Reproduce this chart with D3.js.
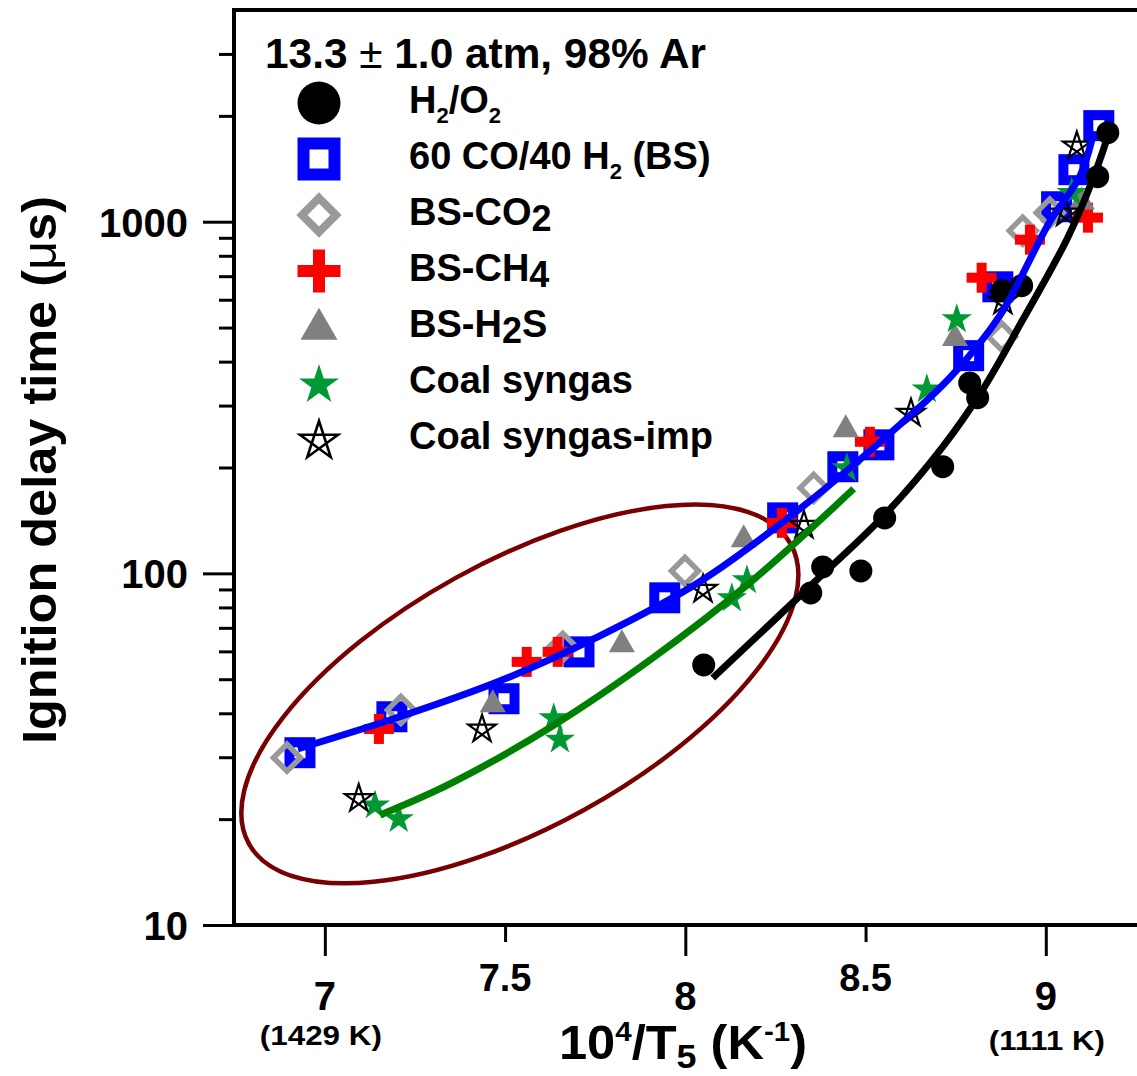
<!DOCTYPE html>
<html><head><meta charset="utf-8">
<script src="https://cdn.jsdelivr.net/npm/d3@7"></script>
<style>
body{margin:0;background:#fff}
svg{display:block}
text{font-family:"Liberation Sans",Arial,Helvetica,sans-serif;font-weight:bold;fill:#000}
</style>
</head><body>
<svg id="chart" width="1137" height="1076"></svg>
<script>
// ---------- data ----------
const xDomain = [6.748, 9.253];
const yDomain = [10, 4000];
const xMajorTicks = [7, 8, 9];
const xMinorTicks = [7.5, 8.5];
const xMajorLabels = ["7", "8", "9"];
const xMinorLabels = ["7.5", "8.5"];
const yMajorTicks = [10, 100, 1000];
const yMinorTicks = [20,30,40,50,60,70,80,90,200,300,400,500,600,700,800,900,2000,3000];

const h2o2X = [8.051, 8.348, 8.381, 8.487, 8.553, 8.714, 8.789, 8.811, 8.878, 8.933, 9.144, 9.172];
const h2o2Y = [54.9, 88.0, 104.3, 101.6, 143.8, 201, 348, 316, 636, 658, 1343, 1792];

const bsX = [6.931, 7.186, 7.497, 7.705, 7.943, 8.270, 8.437, 8.537, 8.786, 8.867, 9.030, 9.078, 9.147];
const bsY = [30.9, 39.1, 44.0, 59.8, 85.2, 143.8, 201, 232, 416, 653, 1103, 1406, 1876];

const co2X = [6.895, 7.211, 7.660, 7.999, 8.356, 8.878, 8.936, 9.011];
const co2Y = [29.9, 40.9, 61.8, 101.6, 175, 471, 943, 1061];

const ch4X = [7.150, 7.560, 7.646, 8.268, 8.512, 8.822, 8.956, 9.117];
const ch4Y = [36.1, 56.0, 59.8, 139.2, 236.7, 693, 889, 1027];

const h2sX = [7.466, 7.824, 8.162, 8.445, 8.748, 9.100];
const h2sY = [42.8, 63.4, 126, 259, 471, 1150];

const coalX = [7.139, 7.205, 7.635, 7.652, 8.129, 8.171, 8.448, 8.670, 8.753, 9.072];
const coalY = [22.1, 20.2, 39.1, 34.0, 85.8, 96.5, 201, 337, 533, 1220];

const impX = [7.094, 7.436, 8.049, 8.329, 8.626, 8.881, 9.055, 9.086];
const impY = [23.1, 36.4, 90.9, 138.3, 288, 600, 1068, 1656];

// fitted curves
const blueFitX = [6.925, 7.208, 7.485, 7.763, 8.040, 8.318, 8.595, 8.734, 8.872, 9.011, 9.094, 9.128];
const blueFitY = [31.7, 39.1, 49.4, 66.4, 94.6, 152.6, 264.6, 360, 540, 1000, 1343, 1711];
const greenFitX = [7.153, 7.347, 7.624, 7.902, 8.179, 8.467];
const greenFitY = [20.55, 25.2, 36.4, 56.7, 94.0, 174];
const blackFitX = [8.076, 8.359, 8.553, 8.714, 8.825, 8.936, 9.058, 9.130, 9.169];
const blackFitY = [50.4, 94.6, 146.7, 229, 333, 526, 889, 1317, 1711];

// ellipse annotation (center in data units)
const ellipseCenter = [7.541, 45.4];

const legendTitle = ["13.3 ", "\u00B1", " 1.0 atm, 98% Ar"];
const legendKeys = ["h2o2", "bs", "co2", "ch4", "h2s", "coal", "imp"];

// ---------- drawing ----------
const svg = d3.select("#chart");
const L = 234, R = 1137, T = 10, B = 925;
const x = d3.scaleLinear().domain(xDomain).range([L, R]);
const y = d3.scaleLog().domain(yDomain).range([B, T]);

const COL = {blue:"#0000ff", red:"#ff0000", dia:"#999999", tri:"#808080", green:"#009933", gline:"#008000", ell:"#780000"};

function starPts(r){
  const p=[];
  for(let i=0;i<5;i++){const a=-Math.PI/2+i*2*Math.PI/5;p.push([r*Math.cos(a),r*Math.sin(a)]);}
  return [0,2,4,1,3].map(i=>p[i]);
}
function starPath(r){return "M"+starPts(r).map(d=>d[0].toFixed(2)+","+d[1].toFixed(2)).join("L")+"Z";}

function drawMarker(g, type, cx, cy, big){
  if(type==="h2o2"){
    g.append("circle").attr("cx",cx).attr("cy",cy).attr("r",big?21.5:11.5).attr("fill","#000");
  } else if(type==="bs"){
    const s = big?31:21, sw = big?12:10;
    g.append("rect").attr("x",cx-s/2).attr("y",cy-s/2).attr("width",s).attr("height",s)
      .attr("fill","none").attr("stroke",COL.blue).attr("stroke-width",sw);
  } else if(type==="co2"){
    const h = big?17:13.5;
    g.append("path").attr("d",`M${cx},${cy-h}L${cx+h},${cy}L${cx},${cy+h}L${cx-h},${cy}Z`)
      .attr("fill","none").attr("stroke",COL.dia).attr("stroke-width",big?8:5.5);
  } else if(type==="ch4"){
    const w = big?43:30, t = big?12:10;
    g.append("rect").attr("x",cx-w/2).attr("y",cy-t/2).attr("width",w).attr("height",t).attr("fill",COL.red);
    g.append("rect").attr("x",cx-t/2).attr("y",cy-w/2).attr("width",t).attr("height",w).attr("fill",COL.red);
  } else if(type==="h2s"){
    const w = big?37:26, h = big?32:23;
    g.append("path").attr("d",`M${cx},${cy-h*0.6}L${cx+w/2},${cy+h*0.4}L${cx-w/2},${cy+h*0.4}Z`).attr("fill",COL.tri);
  } else if(type==="coal"){
    g.append("path").attr("d",starPath(big?21:16)).attr("transform",`translate(${cx},${cy+ (big?2:1.5)})`)
      .attr("fill",COL.green).attr("fill-rule","nonzero");
  } else if(type==="imp"){
    g.append("path").attr("d",starPath(big?20:14.5)).attr("transform",`translate(${cx},${cy+(big?2:1.5)})`)
      .attr("fill","none").attr("stroke","#000").attr("stroke-width",big?2.6:2.2).attr("stroke-linejoin","miter");
  }
}

// ellipse
svg.append("ellipse")
  .attr("cx",0).attr("cy",0).attr("rx",309.6).attr("ry",132.6)
  .attr("transform",`translate(${x(ellipseCenter[0])},${y(ellipseCenter[1])}) rotate(-28.9)`)
  .attr("fill","none").attr("stroke",COL.ell).attr("stroke-width",4.5);

// markers
const series = [
  ["bs", bsX, bsY],
  ["co2", co2X, co2Y],
  ["ch4", ch4X, ch4Y],
  ["h2s", h2sX, h2sY],
  ["coal", coalX, coalY],
  ["imp", impX, impY],
  ["h2o2", h2o2X, h2o2Y]
];
const mg = svg.append("g");
series.forEach(([type, xs, ys])=>{
  xs.forEach((v,i)=>drawMarker(mg, type, x(v), y(ys[i]), false));
});

// fit lines
const line = d3.line().x(d=>x(d[0])).y(d=>y(d[1])).curve(d3.curveCatmullRom.alpha(0.5));
function fit(xs, ys, color){
  svg.append("path").attr("d", line(xs.map((v,i)=>[v, ys[i]])))
    .attr("fill","none").attr("stroke",color).attr("stroke-width",7).attr("stroke-linecap","butt");
}
fit(greenFitX, greenFitY, COL.gline);
fit(blueFitX, blueFitY, COL.blue);
fit(blackFitX, blackFitY, "#000");

// axes
const yMaj = svg.append("g").attr("transform",`translate(${L},0)`)
  .call(d3.axisLeft(y).tickValues(yMajorTicks).tickSize(31).tickPadding(15).tickFormat(d3.format("d")));
const yMin = svg.append("g").attr("transform",`translate(${L},0)`)
  .call(d3.axisLeft(y).tickValues(yMinorTicks).tickSize(15).tickFormat(""));
const xMaj = svg.append("g").attr("transform",`translate(0,${B})`)
  .call(d3.axisBottom(x).tickValues(xMajorTicks).tickSize(31).tickFormat(""));
const xMin = svg.append("g").attr("transform",`translate(0,${B})`)
  .call(d3.axisBottom(x).tickValues(xMinorTicks).tickSize(17).tickFormat(""));
[yMaj,yMin,xMaj,xMin].forEach(g=>{
  g.select(".domain").remove();
  g.selectAll(".tick line").attr("stroke","#000").attr("stroke-width",3);
});
yMaj.selectAll(".tick text").attr("font-size",40).attr("fill","#000")
  .style("font-family","'Liberation Sans',Arial,sans-serif").style("font-weight","bold").attr("dy","0.36em");

// frame lines
svg.append("line").attr("x1",L).attr("x2",L).attr("y1",T-2).attr("y2",B+2).attr("stroke","#000").attr("stroke-width",4);
svg.append("line").attr("x1",L-2).attr("x2",R).attr("y1",B).attr("y2",B).attr("stroke","#000").attr("stroke-width",4);
svg.append("line").attr("x1",L-2).attr("x2",R).attr("y1",T).attr("y2",T).attr("stroke","#000").attr("stroke-width",4);

// x tick labels
xMajorTicks.forEach((v,i)=>{
  svg.append("text").attr("x",x(v)).attr("y",1010).attr("text-anchor","middle").attr("font-size",40).text(xMajorLabels[i]);
});
xMinorTicks.forEach((v,i)=>{
  svg.append("text").attr("x",x(v)).attr("y",991).attr("text-anchor","middle").attr("font-size",38).text(xMinorLabels[i]);
});
svg.append("text").attr("x",x(7)-4).attr("y",1045).attr("text-anchor","middle").attr("font-size",28)
  .attr("textLength",122).attr("lengthAdjust","spacingAndGlyphs").text("(1429 K)");
svg.append("text").attr("x",x(9)+1).attr("y",1050).attr("text-anchor","middle").attr("font-size",28)
  .attr("textLength",116).attr("lengthAdjust","spacingAndGlyphs").text("(1111 K)");

// x title
const xt = svg.append("text").attr("x",683).attr("y",1059).attr("text-anchor","middle").attr("font-size",48)
  .attr("textLength",248).attr("lengthAdjust","spacingAndGlyphs");
xt.append("tspan").text("10");
xt.append("tspan").attr("font-size",28).attr("dy",-18).text("4");
xt.append("tspan").attr("dy",18).text("/T");
xt.append("tspan").attr("font-size",34).attr("dy",9).text("5");
xt.append("tspan").attr("dy",-9).text(" (K");
xt.append("tspan").attr("font-size",28).attr("dy",-18).text("-1");
xt.append("tspan").attr("dy",18).text(")");

// y title
const yt = svg.append("text").attr("transform","translate(56,470) rotate(-90)").attr("text-anchor","middle")
  .attr("font-size",49).attr("textLength",548).attr("lengthAdjust","spacingAndGlyphs");
yt.append("tspan").text("Ignition delay time (");
yt.append("tspan").style("font-weight","normal").text("\u03BC");
yt.append("tspan").text("s)");

// legend
const lt = svg.append("text").attr("x",265).attr("y",68).attr("font-size",42)
  .attr("textLength",441).attr("lengthAdjust","spacingAndGlyphs");
lt.append("tspan").text(legendTitle[0]);
lt.append("tspan").style("font-weight","normal").text(legendTitle[1]);
lt.append("tspan").text(legendTitle[2]);

const lg = svg.append("g");
const labelParts = {
  h2o2: [["H",0,null],["2",1,"s"],["/O",0,null],["2",1,"s"]],
  bs: [["60 CO/40 H",0,null],["2",1,"s"],[" (BS)",0,null]],
  co2: [["BS-CO",0,null],["2",1,"b"]],
  ch4: [["BS-CH",0,null],["4",1,"b"]],
  h2s: [["BS-H",0,null],["2",1,"b"],["S",0,null]],
  coal: [["Coal syngas",0,null]],
  imp: [["Coal syngas-imp",0,null]]
};
legendKeys.forEach((k,i)=>{
  const by = 113 + i*56;
  drawMarker(lg, k, 319, by-10, true);
  const t = lg.append("text").attr("x",409).attr("y",by).attr("font-size",38);
  let shift = 0;
  labelParts[k].forEach(([s,sub,kind])=>{
    const sp = t.append("tspan").text(s);
    const target = sub ? (kind==="s"?10:6) : 0;
    const dy = target - shift;
    if(dy!==0) sp.attr("dy",dy);
    shift = target;
    if(sub) sp.attr("font-size", kind==="s"?22:36);
  });
});
</script>
</body></html>
